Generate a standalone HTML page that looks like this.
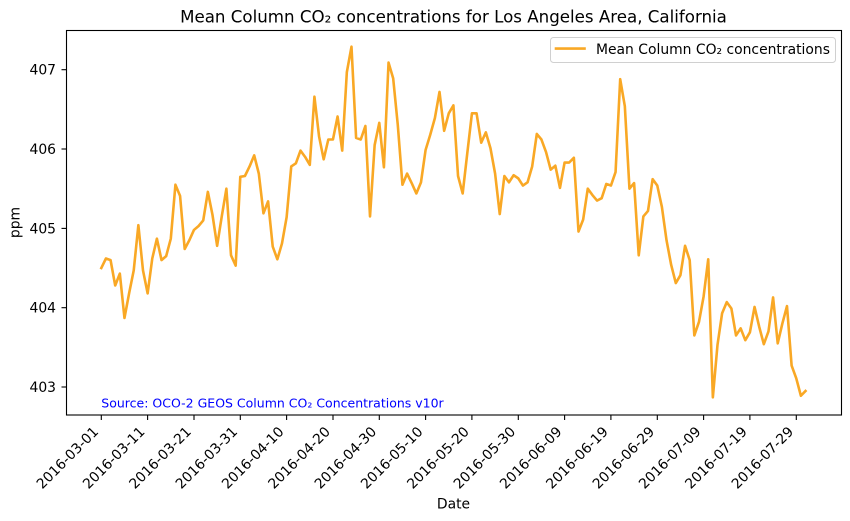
<!DOCTYPE html>
<html>
<head>
<meta charset="utf-8">
<style>
html,body{margin:0;padding:0;background:#fff;}
svg{display:block;font-family:"DejaVu Sans","Liberation Sans",sans-serif;}
</style>
</head>
<body>
<svg width="850" height="521" viewBox="0 0 850 521" xmlns="http://www.w3.org/2000/svg">
<rect x="0" y="0" width="850" height="521" fill="#fff"/>
<!-- title -->
<text x="453.5" y="22.3" font-size="16.67" text-anchor="middle" fill="#000">Mean Column CO₂ concentrations for Los Angeles Area, California</text>

<!-- data line -->
<g transform="translate(101.3,625.01) scale(4.633,-79.33)">
<polyline fill="none" stroke="#F9A825" stroke-width="2.6" vector-effect="non-scaling-stroke" stroke-linejoin="round" stroke-linecap="square" points="
0,4.50 1,4.62 2,4.60 3,4.28 4,4.43 5,3.87 6,4.18 7,4.47 8,5.04 9,4.47
10,4.18 11,4.62 12,4.87 13,4.60 14,4.65 15,4.87 16,5.55 17,5.41 18,4.74 19,4.85
20,4.98 21,5.03 22,5.10 23,5.46 24,5.17 25,4.78 26,5.15 27,5.50 28,4.66 29,4.53
30,5.65 31,5.66 32,5.78 33,5.92 34,5.69 35,5.19 36,5.34 37,4.77 38,4.61 39,4.81
40,5.14 41,5.78 42,5.82 43,5.98 44,5.90 45,5.80 46,6.66 47,6.16 48,5.87 49,6.12
50,6.12 51,6.41 52,5.98 53,6.97 54,7.29 55,6.14 56,6.12 57,6.29 58,5.15 59,6.05
60,6.33 61,5.77 62,7.09 63,6.89 64,6.30 65,5.55 66,5.69 67,5.57 68,5.44 69,5.58
70,5.99 71,6.18 72,6.39 73,6.72 74,6.23 75,6.45 76,6.55 77,5.66 78,5.44 79,5.95
80,6.45 81,6.45 82,6.08 83,6.21 84,6.01 85,5.69 86,5.18 87,5.66 88,5.58 89,5.67
90,5.63 91,5.54 92,5.58 93,5.78 94,6.19 95,6.12 96,5.96 97,5.74 98,5.79 99,5.51
100,5.83 101,5.83 102,5.89 103,4.96 104,5.11 105,5.50 106,5.42 107,5.35 108,5.38 109,5.56
110,5.54 111,5.71 112,6.88 113,6.54 114,5.50 115,5.57 116,4.66 117,5.15 118,5.22 119,5.62
120,5.54 121,5.27 122,4.85 123,4.54 124,4.31 125,4.41 126,4.78 127,4.60 128,3.65 129,3.82
130,4.14 131,4.61 132,2.87 133,3.53 134,3.93 135,4.07 136,3.99 137,3.65 138,3.74 139,3.59
140,3.69 141,4.01 142,3.76 143,3.54 144,3.70 145,4.13 146,3.55 147,3.80 148,4.02 149,3.27
150,3.11 151,2.89 152,2.95"/>
</g>

<!-- axes frame -->
<rect x="66.5" y="30.5" width="775" height="384.5" fill="none" stroke="#000" stroke-width="1.1"/>

<!-- y ticks -->
<g stroke="#000" stroke-width="1.1">
<line x1="61.5" y1="387.0" x2="66.5" y2="387.0"/>
<line x1="61.5" y1="307.7" x2="66.5" y2="307.7"/>
<line x1="61.5" y1="228.4" x2="66.5" y2="228.4"/>
<line x1="61.5" y1="149.0" x2="66.5" y2="149.0"/>
<line x1="61.5" y1="69.7" x2="66.5" y2="69.7"/>
</g>
<g font-size="13.9" text-anchor="end" fill="#000">
<text x="56" y="392.0">403</text>
<text x="56" y="312.7">404</text>
<text x="56" y="233.4">405</text>
<text x="56" y="154.0">406</text>
<text x="56" y="74.7">407</text>
</g>
<text transform="translate(19.7,222.5) rotate(-90)" font-size="13.9" text-anchor="middle" fill="#000">ppm</text>

<!-- x ticks -->
<g stroke="#000" stroke-width="1.1">
<line x1="101.3" y1="415" x2="101.3" y2="420"/>
<line x1="147.6" y1="415" x2="147.6" y2="420"/>
<line x1="194.0" y1="415" x2="194.0" y2="420"/>
<line x1="240.3" y1="415" x2="240.3" y2="420"/>
<line x1="286.6" y1="415" x2="286.6" y2="420"/>
<line x1="333.0" y1="415" x2="333.0" y2="420"/>
<line x1="379.3" y1="415" x2="379.3" y2="420"/>
<line x1="425.6" y1="415" x2="425.6" y2="420"/>
<line x1="471.9" y1="415" x2="471.9" y2="420"/>
<line x1="518.3" y1="415" x2="518.3" y2="420"/>
<line x1="564.6" y1="415" x2="564.6" y2="420"/>
<line x1="610.9" y1="415" x2="610.9" y2="420"/>
<line x1="657.3" y1="415" x2="657.3" y2="420"/>
<line x1="703.6" y1="415" x2="703.6" y2="420"/>
<line x1="749.9" y1="415" x2="749.9" y2="420"/>
<line x1="796.3" y1="415" x2="796.3" y2="420"/>
</g>
<g font-size="13.9" text-anchor="end" fill="#000">
<text transform="translate(99.3,432.5) rotate(-45)">2016-03-01</text>
<text transform="translate(145.6,432.5) rotate(-45)">2016-03-11</text>
<text transform="translate(192.0,432.5) rotate(-45)">2016-03-21</text>
<text transform="translate(238.3,432.5) rotate(-45)">2016-03-31</text>
<text transform="translate(284.6,432.5) rotate(-45)">2016-04-10</text>
<text transform="translate(331.0,432.5) rotate(-45)">2016-04-20</text>
<text transform="translate(377.3,432.5) rotate(-45)">2016-04-30</text>
<text transform="translate(423.6,432.5) rotate(-45)">2016-05-10</text>
<text transform="translate(469.9,432.5) rotate(-45)">2016-05-20</text>
<text transform="translate(516.3,432.5) rotate(-45)">2016-05-30</text>
<text transform="translate(562.6,432.5) rotate(-45)">2016-06-09</text>
<text transform="translate(608.9,432.5) rotate(-45)">2016-06-19</text>
<text transform="translate(655.3,432.5) rotate(-45)">2016-06-29</text>
<text transform="translate(701.6,432.5) rotate(-45)">2016-07-09</text>
<text transform="translate(747.9,432.5) rotate(-45)">2016-07-19</text>
<text transform="translate(794.3,432.5) rotate(-45)">2016-07-29</text>
</g>
<text x="453.5" y="508.5" font-size="13.9" text-anchor="middle" fill="#000">Date</text>

<!-- source annotation -->
<text x="101.3" y="407.7" font-size="12.5" fill="#0000ff">Source: OCO-2 GEOS Column CO₂ Concentrations v10r</text>

<!-- legend -->
<rect x="550.5" y="37.5" width="285" height="25" rx="3" ry="3" fill="#fff" fill-opacity="0.8" stroke="#d0d0d0" stroke-width="1"/>
<line x1="556" y1="48.6" x2="584.5" y2="48.6" stroke="#F9A825" stroke-width="2.6" stroke-linecap="square"/>
<text x="596" y="54" font-size="13.9" fill="#000">Mean Column CO₂ concentrations</text>
</svg>
</body>
</html>
